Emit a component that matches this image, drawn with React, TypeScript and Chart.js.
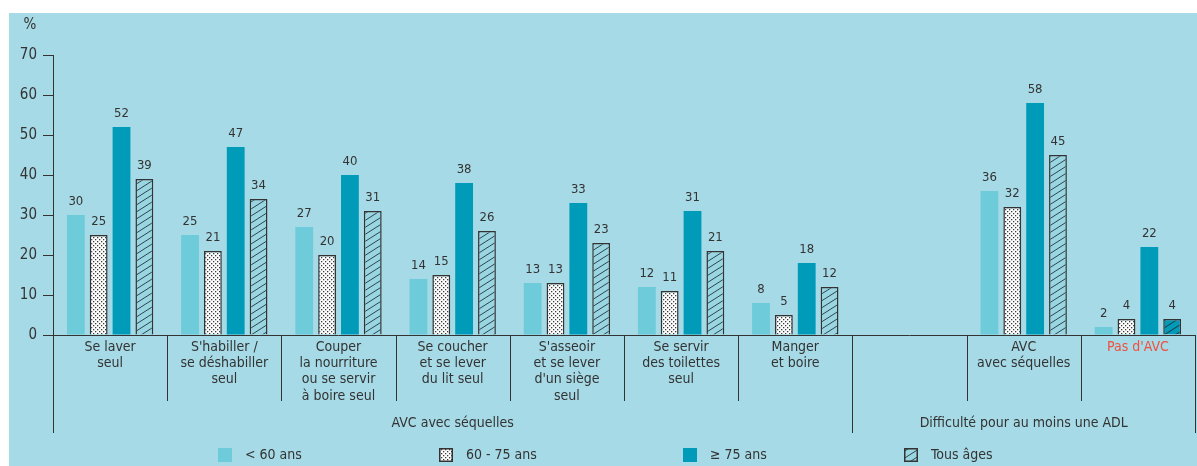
import React, { useEffect, useRef } from "react";
import { Chart, registerables } from "chart.js";

Chart.register(...registerables);

// ---------- Data ----------
const categoryLines: string[][] = [
  ["Se laver", "seul"],
  ["S'habiller /", "se déshabiller", "seul"],
  ["Couper", "la nourriture", "ou se servir", "à boire seul"],
  ["Se coucher", "et se lever", "du lit seul"],
  ["S'asseoir", "et se lever", "d'un siège", "seul"],
  ["Se servir", "des toilettes", "seul"],
  ["Manger", "et boire"],
  [""],
  ["AVC", "avec séquelles"],
  ["Pas d'AVC"],
];
const under60: (number | null)[] = [30, 25, 27, 14, 13, 12, 8, null, 36, 2];
const from60to75: (number | null)[] = [25, 21, 20, 15, 13, 11, 5, null, 32, 4];
const over75: (number | null)[] = [52, 47, 40, 38, 33, 31, 18, null, 58, 22];
const allAges: (number | null)[] = [39, 34, 31, 26, 23, 21, 12, null, 45, 4];
const seriesNames = ["< 60 ans", "60 - 75 ans", "≥ 75 ans", "Tous âges"];
const yTickValues = [0, 10, 20, 30, 40, 50, 60, 70];
const yUnit = "%";
const groupLabels = [
  { text: "AVC avec séquelles", from: 0, to: 6 },
  { text: "Difficulté pour au moins une ADL", from: 7, to: 9 },
];
const highlightedCategory = 9; // "Pas d'AVC" shown in red

// ---------- Styles ----------
const BG = "#a6dae6";
const LIGHT = "#6eccda";
const DARK = "#009bb8";
const HATCH_BG = "#9ad6e1";
const TEXT = "#333333";
const RED = "#f0503f";
const FONT = "'Liberation Sans Narrow', 'DejaVu Sans Condensed', 'Noto Sans', sans-serif";

function makeDots(): CanvasPattern | string {
  const c = document.createElement("canvas");
  c.width = 4;
  c.height = 4;
  const g = c.getContext("2d");
  if (!g) return "#fff";
  g.fillStyle = "#ffffff";
  g.fillRect(0, 0, 4, 4);
  g.fillStyle = "#3a3a3a";
  g.fillRect(0, 0, 1.3, 1.3);
  g.fillRect(2, 2, 1.3, 1.3);
  return g.createPattern(c, "repeat") as CanvasPattern;
}

function makeHatch(bg: string, line: string): CanvasPattern | string {
  const w = 11;
  const h = 7;
  const c = document.createElement("canvas");
  c.width = w;
  c.height = h;
  const g = c.getContext("2d");
  if (!g) return bg;
  g.fillStyle = bg;
  g.fillRect(0, 0, w, h);
  g.strokeStyle = line;
  g.lineWidth = 1;
  for (let k = -1; k <= 1; k++) {
    g.beginPath();
    g.moveTo(-w, 2 * h + k * h);
    g.lineTo(2 * w, -h + k * h);
    g.stroke();
  }
  return g.createPattern(c, "repeat") as CanvasPattern;
}

export default function App() {
  const ref = useRef<HTMLCanvasElement | null>(null);

  useEffect(() => {
    if (!ref.current) return;
    const dots = makeDots();
    const hatchLight = makeHatch(HATCH_BG, "#2c4650");
    const hatchDark = makeHatch(DARK, "#1d3540");
    const hatchFills = allAges.map((_, i) => (i === highlightedCategory ? hatchDark : hatchLight));

    const overlay = {
      id: "overlay",
      afterDatasetsDraw(chart: any) {
        const ctx = chart.ctx as CanvasRenderingContext2D;
        const area = chart.chartArea;
        const xs = chart.scales.x;
        const n = categoryLines.length;
        const half = (xs.getPixelForValue(1) - xs.getPixelForValue(0)) / 2;
        const boundary = (i: number) =>
          i === 0 ? area.left : i === n ? area.right : xs.getPixelForValue(i) - half;

        ctx.save();
        // data labels
        ctx.fillStyle = TEXT;
        ctx.font = `13px ${FONT}`;
        ctx.textAlign = "center";
        ctx.textBaseline = "middle";
        chart.data.datasets.forEach((ds: any, di: number) => {
          const meta = chart.getDatasetMeta(di);
          meta.data.forEach((bar: any, i: number) => {
            const v = ds.data[i];
            if (v === null || v === undefined) return;
            ctx.fillText(String(v), bar.x, bar.y - 13);
          });
        });

        // x axis line
        ctx.strokeStyle = TEXT;
        ctx.lineWidth = 1;
        const y0 = Math.round(area.bottom) + 0.5;
        ctx.beginPath();
        ctx.moveTo(area.left, y0);
        ctx.lineTo(area.right, y0);
        ctx.stroke();

        // dividers
        const longSet = new Set<number>([0, 7, n]);
        for (let i = 0; i <= n; i++) {
          const x = Math.round(boundary(i)) + 0.5;
          const yEnd = longSet.has(i) ? area.bottom + 98 : area.bottom + 66;
          ctx.beginPath();
          ctx.moveTo(x, area.bottom);
          ctx.lineTo(x, yEnd);
          ctx.stroke();
        }

        // category labels
        ctx.font = `14px ${FONT}`;
        ctx.textBaseline = "middle";
        categoryLines.forEach((lines, i) => {
          const cx = xs.getPixelForValue(i);
          ctx.fillStyle = i === highlightedCategory ? RED : TEXT;
          lines.forEach((t, li) => {
            ctx.fillText(t, cx, area.bottom + 12 + li * 16.3);
          });
        });

        // group labels
        ctx.fillStyle = TEXT;
        groupLabels.forEach((gl) => {
          const cx = (boundary(gl.from) + boundary(gl.to + 1)) / 2;
          ctx.fillText(gl.text, cx, area.bottom + 88);
        });

        // unit
        ctx.textAlign = "center";
        ctx.font = `15px ${FONT}`;
        ctx.fillText(yUnit, 21, 12);

        // legend
        ctx.font = `14px ${FONT}`;
        const fills = [LIGHT, dots, DARK, hatchLight];
        const boxX = [209, 430, 674, 895];
        const ly = 435;
        seriesNames.forEach((name, i) => {
          ctx.fillStyle = fills[i] as any;
          ctx.fillRect(boxX[i], ly, 14, 14);
          if (i === 1 || i === 3) {
            ctx.strokeStyle = TEXT;
            ctx.lineWidth = 1.5;
            ctx.strokeRect(boxX[i] + 0.75, ly + 0.75, 12.5, 12.5);
          }
          ctx.fillStyle = TEXT;
          ctx.textAlign = "left";
          ctx.fillText(name, boxX[i] + 27, ly + 7);
        });
        ctx.restore();
      },
    };

    const chart = new Chart(ref.current, {
      type: "bar",
      data: {
        labels: categoryLines.map((l) => l.join(" ")),
        datasets: [
          { label: seriesNames[0], data: under60, backgroundColor: LIGHT, borderWidth: 0 },
          { label: seriesNames[1], data: from60to75, backgroundColor: dots as any, borderColor: TEXT, borderWidth: 1.5 },
          { label: seriesNames[2], data: over75, backgroundColor: DARK, borderWidth: 0 },
          { label: seriesNames[3], data: allAges, backgroundColor: hatchFills as any, borderColor: TEXT, borderWidth: 1.5 },
        ],
      },
      options: {
        animation: false,
        responsive: false,
        maintainAspectRatio: false,
        datasets: { bar: { categoryPercentage: 0.8, barPercentage: 0.78 } },
        layout: { padding: { top: 42, bottom: 131, left: 0, right: 2 } },
        plugins: { legend: { display: false }, tooltip: { enabled: false } },
        scales: {
          x: { display: false },
          y: {
            min: 0,
            max: 70,
            afterFit: (s: any) => {
              s.width = 44;
            },
            afterBuildTicks: (s: any) => {
              s.ticks = yTickValues.map((v) => ({ value: v }));
            },
            ticks: { color: TEXT, font: { family: FONT, size: 15 }, padding: 6 },
            grid: { drawOnChartArea: false, drawTicks: true, tickLength: 10, color: TEXT },
            border: { display: true, color: TEXT, width: 1 },
          },
        },
      },
      plugins: [overlay],
    });

    return () => chart.destroy();
  }, []);

  return (
    <div
      style={{
        position: "fixed",
        left: 9,
        top: 13,
        width: 1188,
        height: 453,
        background: BG,
      }}
    >
      <canvas ref={ref} width={1188} height={453} style={{ display: "block" }} />
    </div>
  );
}
